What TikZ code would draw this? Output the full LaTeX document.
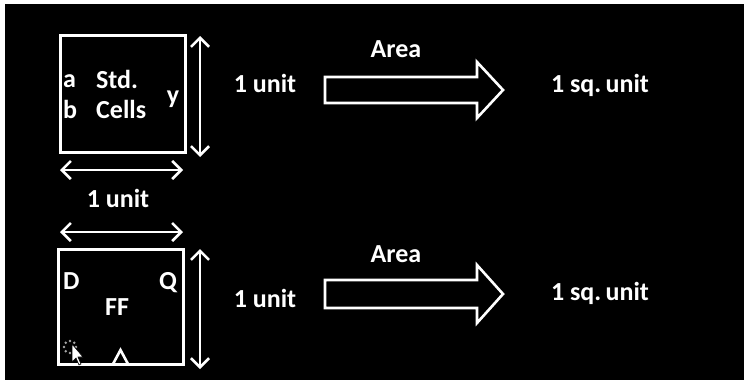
\documentclass[tikz,border=0pt]{standalone}
\usepackage{fontspec}
\setmainfont{Carlito}
\usetikzlibrary{arrows.meta}
\begin{document}
\begin{tikzpicture}[x=1pt,y=-1pt,
  lbl/.style={text=white, font=\fontsize{26}{30}\selectfont\bfseries, inner sep=0pt, anchor=base},
  cellbox/.style={draw=white, line width=3pt, minimum width=125pt, inner sep=0pt},
  dim/.style={white, line width=2.6pt,
    {Straight Barb[length=9pt,width=18pt]}-{Straight Barb[length=9pt,width=18pt]}},
  blockarrow/.style={draw=white, line width=2.6pt, line join=miter},
  clk/.style={draw=white, line width=2.6pt, line join=miter}]
% page: black slide with a thin white margin at top and left
\fill[black] (0,0) rectangle (744,380);
\fill[white] (0,0) rectangle (744,4);
\fill[white] (0,0) rectangle (5,380);
\useasboundingbox (0,0) rectangle (744,380);

% ---------- standard cell ----------
\node[cellbox, minimum height=117pt] (cell) at (122.5,93.5) {};
\node[lbl, anchor=base west] (ina) at (63,87) {a};
\node[lbl, anchor=base west] (inb) at (63,118) {b};
\node[lbl, anchor=base west] (std) at (96,88) {Std.};
\node[lbl, anchor=base west] (cells) at (96,118) {Cells};
\node[lbl] (outy) at (173,103) {y};

\coordinate (cvT) at (200,36);
\coordinate (cvB) at (200,157);
\draw[dim] (cvT) -- (cvB);
\coordinate (chL) at (60,170);
\coordinate (chR) at (183,170);
\draw[dim] (chL) -- (chR);
\node[lbl] (cellw) at (118,207) {1 unit};
\node[lbl] (cellh) at (265,92) {1 unit};

\node[lbl] (area1) at (396,57) {Area};
\draw[blockarrow] (325,77) -- (477,77) -- (477,62) -- (503,90) -- (477,118) -- (477,103) -- (325,103) -- cycle;
\node[lbl] (sq1) at (600,92) {1 sq.\,unit};

% ---------- flip-flop ----------
\coordinate (fhL) at (60,232);
\coordinate (fhR) at (183,232);
\draw[dim] (fhL) -- (fhR);
\node[cellbox, minimum height=115pt] (ff) at (120.5,306.5) {};
\node[lbl, anchor=base west] (ind) at (63,289) {D};
\node[lbl] (outq) at (168,289) {Q};
\node[lbl] (ffname) at (117,315) {FF};
\draw[clk] (113,364) -- (120.5,350) -- (128,364);

\coordinate (fvT) at (200,249);
\coordinate (fvB) at (200,369);
\draw[dim] (fvT) -- (fvB);
\node[lbl] (ffh) at (265,307) {1 unit};

\node[lbl] (area2) at (396,262) {Area};
\draw[blockarrow] (325,280) -- (477,280) -- (477,265) -- (503,294) -- (477,323) -- (477,308) -- (325,308) -- cycle;
\node[lbl] (sq2) at (600,300) {1 sq.\,unit};

% mouse pointer with busy ring
\foreach \a in {0,45,...,315}
  \fill[gray!70] (70,347) ++(\a:6) circle (1.3pt);
\draw[black, fill=white, line width=0.6pt] (72,344) -- (72,362) -- (76,358) -- (79,365) -- (81,364) -- (78,357) -- (83,357) -- cycle;
\end{tikzpicture}
\end{document}
